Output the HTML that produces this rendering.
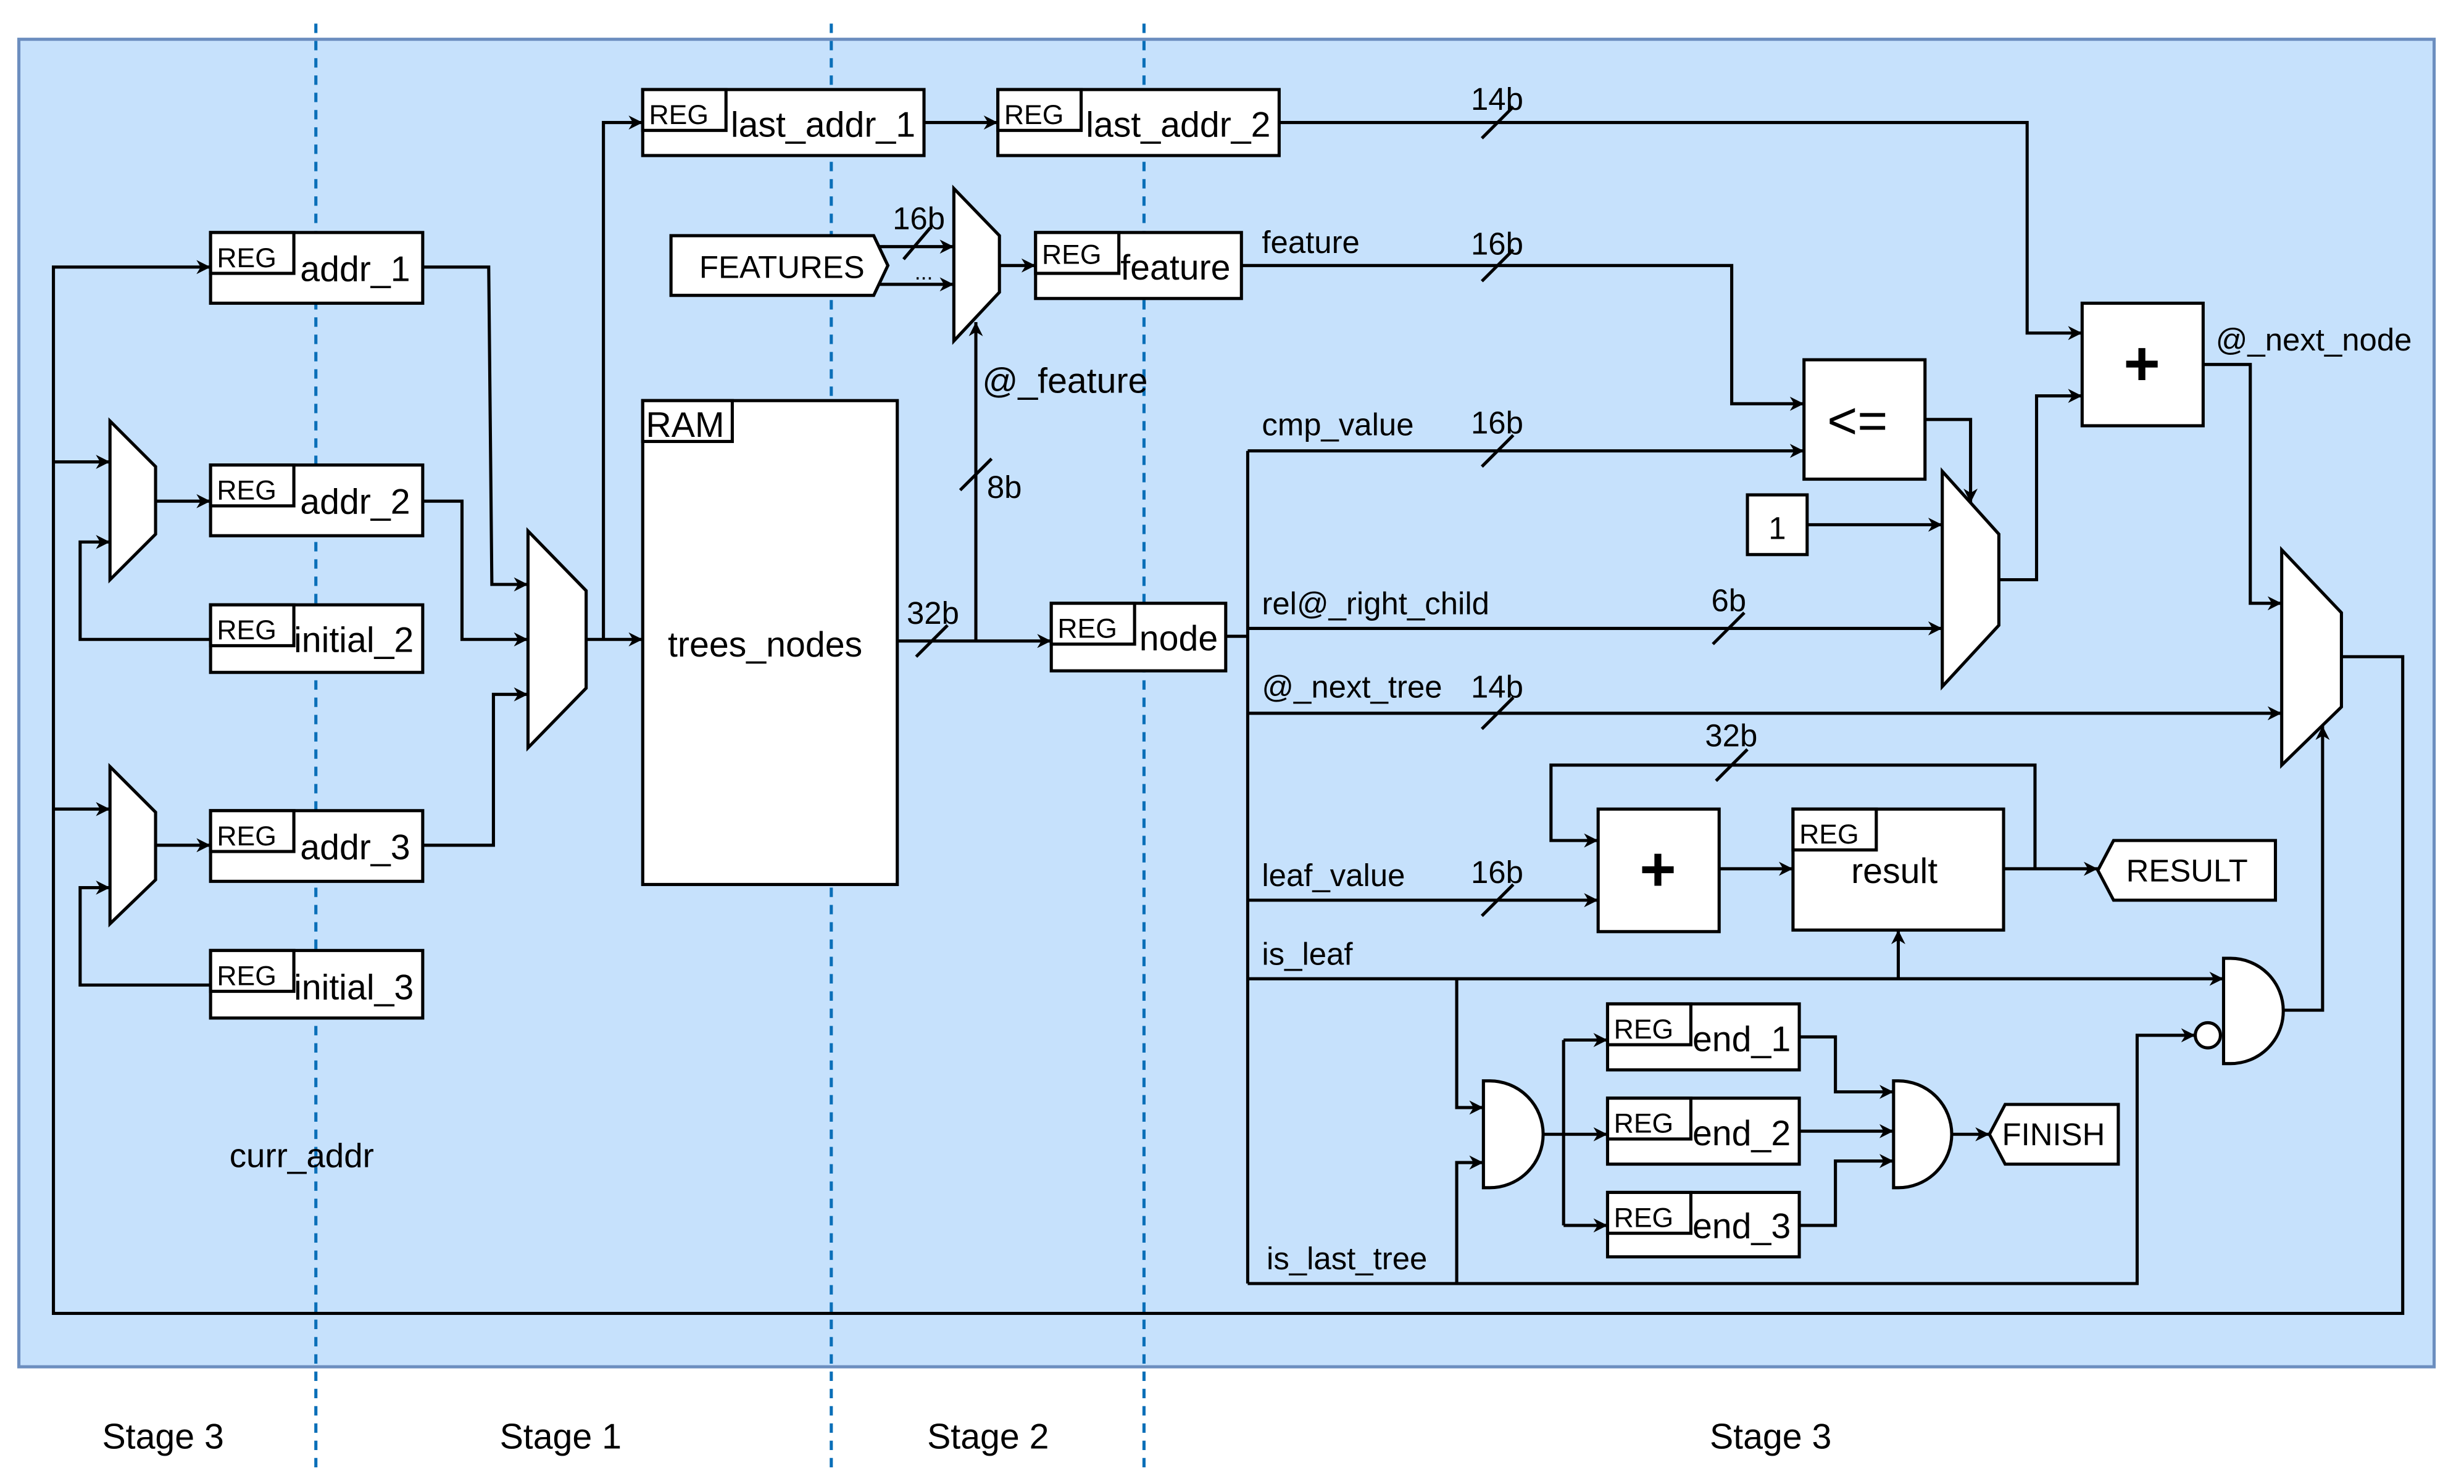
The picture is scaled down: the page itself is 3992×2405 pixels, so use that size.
<!DOCTYPE html>
<html><head><meta charset="utf-8"><style>html,body{margin:0;padding:0;background:#fff}svg{display:block}</style></head>
<body>
<svg width="3992" height="2405" viewBox="0 0 1568 944.6" preserveAspectRatio="none" xmlns="http://www.w3.org/2000/svg" font-family="Liberation Sans, sans-serif">
<defs>
<marker id="a" viewBox="0 0 10 10" refX="10" refY="5" markerWidth="9" markerHeight="9" markerUnits="userSpaceOnUse" orient="auto"><path d="M0,0 L10,5 L0,10 L3,5 Z" fill="#000"/></marker>
</defs>
<rect x="12" y="25" width="1537" height="845" fill="#c6e1fc" stroke="#6c8ebf" stroke-width="2"/>
<g stroke="#0a6fb8" stroke-width="2" stroke-dasharray="6,5">
<line x1="201" y1="15" x2="201" y2="935"/><line x1="529" y1="15" x2="529" y2="935"/><line x1="728" y1="15" x2="728" y2="935"/>
</g>
<g fill="none" stroke="#000" stroke-width="2">
<polyline points="1490,418 1529,418 1529,836 34,836 34,170 134,170" marker-end="url(#a)"/>
<polyline points="34,294 70,294" marker-end="url(#a)"/>
<polyline points="34,515 70,515" marker-end="url(#a)"/>
<polyline points="99,319 134,319" marker-end="url(#a)"/>
<polyline points="134,407 51,407 51,345 70,345" marker-end="url(#a)"/>
<polyline points="99,538 134,538" marker-end="url(#a)"/>
<polyline points="134,627 51,627 51,565 70,565" marker-end="url(#a)"/>
<polyline points="269,170 311,170 313,372 336,372" marker-end="url(#a)"/>
<polyline points="269,319 294,319 294,407 336,407" marker-end="url(#a)"/>
<polyline points="269,538 314,538 314,442 336,442" marker-end="url(#a)"/>
<polyline points="373,407 409,407" marker-end="url(#a)"/>
<polyline points="384,407 384,78 409,78" marker-end="url(#a)"/>
<polyline points="588,78 635,78" marker-end="url(#a)"/>
<polyline points="814,78 1290,78 1290,212 1325,212" marker-end="url(#a)"/>
<polyline points="558,157 607,157" marker-end="url(#a)"/>
<polyline points="558,181 607,181" marker-end="url(#a)"/>
<polyline points="636,169 659,169" marker-end="url(#a)"/>
<polyline points="571,408 669,408" marker-end="url(#a)"/>
<polyline points="621,408 621,205" marker-end="url(#a)"/>
<polyline points="780,405 794,405"/>
<line x1="794" y1="287" x2="794" y2="817"/>
<polyline points="790,169 1102,169 1102,257 1148,257" marker-end="url(#a)"/>
<polyline points="794,287 1148,287" marker-end="url(#a)"/>
<polyline points="1225,267 1254,267 1254,320" marker-end="url(#a)"/>
<polyline points="1150,334 1236,334" marker-end="url(#a)"/>
<polyline points="794,400 1236,400" marker-end="url(#a)"/>
<polyline points="1272,369 1296,369 1296,252 1325,252" marker-end="url(#a)"/>
<polyline points="1402,232 1432,232 1432,384 1452,384" marker-end="url(#a)"/>
<polyline points="794,454 1452,454" marker-end="url(#a)"/>
<polyline points="794,573 1017,573" marker-end="url(#a)"/>
<polyline points="1094,553 1141,553" marker-end="url(#a)"/>
<polyline points="1275,553 1335,553" marker-end="url(#a)"/>
<polyline points="1295,553 1295,487 987,487 987,535 1017,535" marker-end="url(#a)"/>
<polyline points="794,623 1415,623" marker-end="url(#a)"/>
<polyline points="1208,623 1208,592" marker-end="url(#a)"/>
<polyline points="927,623 927,705 944,705" marker-end="url(#a)"/>
<polyline points="794,817 1360,817 1360,659 1397,659" marker-end="url(#a)"/>
<polyline points="927,817 927,740 944,740" marker-end="url(#a)"/>
<polyline points="982,722 995,722"/>
<polyline points="995,662 995,780"/>
<polyline points="995,662 1023,662" marker-end="url(#a)"/>
<polyline points="995,722 1023,722" marker-end="url(#a)"/>
<polyline points="995,780 1023,780" marker-end="url(#a)"/>
<polyline points="1145,660 1168,660 1168,695 1205,695" marker-end="url(#a)"/>
<polyline points="1145,720 1205,720" marker-end="url(#a)"/>
<polyline points="1145,780 1168,780 1168,739 1205,739" marker-end="url(#a)"/>
<polyline points="1242,722 1266,722" marker-end="url(#a)"/>
<polyline points="1453,643 1478,643 1478,462" marker-end="url(#a)"/>
<line x1="943" y1="88" x2="963" y2="68"/><line x1="943" y1="179" x2="963" y2="159"/>
<line x1="943" y1="297" x2="963" y2="277"/><line x1="1090" y1="410" x2="1110" y2="390"/>
<line x1="943" y1="464" x2="963" y2="444"/><line x1="1092" y1="497" x2="1112" y2="477"/>
<line x1="943" y1="583" x2="963" y2="563"/><line x1="583" y1="418" x2="603" y2="398"/>
<line x1="611" y1="312" x2="631" y2="292"/><line x1="575" y1="165" x2="592" y2="145"/>
</g>
<g fill="#fff" stroke="#000" stroke-width="2">
<rect x="409" y="57" width="179" height="42"/><rect x="409" y="57" width="53" height="26"/>
<rect x="635" y="57" width="179" height="42"/><rect x="635" y="57" width="53" height="26"/>
<rect x="134" y="148" width="135" height="45"/><rect x="134" y="148" width="53" height="26"/>
<rect x="134" y="296" width="135" height="45"/><rect x="134" y="296" width="53" height="26"/>
<rect x="134" y="385" width="135" height="43"/><rect x="134" y="385" width="53" height="26"/>
<rect x="134" y="516" width="135" height="45"/><rect x="134" y="516" width="53" height="26"/>
<rect x="134" y="605" width="135" height="43"/><rect x="134" y="605" width="53" height="26"/>
<polygon points="427,150 556,150 565,169 556,188 427,188"/>
<polygon points="607,120 636,150 636,186 607,217"/>
<rect x="659" y="148" width="131" height="42"/><rect x="659" y="148" width="53" height="26"/>
<rect x="409" y="255" width="162" height="308"/><rect x="409" y="255" width="57" height="26"/>
<rect x="669" y="384" width="111" height="43"/><rect x="669" y="384" width="53" height="26"/>
<polygon points="336,338 373,376 373,438 336,476"/>
<polygon points="70,268 99,297 99,340 70,369"/>
<polygon points="70,488 99,517 99,560 70,588"/>
<rect x="1148" y="229" width="77" height="76"/>
<rect x="1325" y="193" width="77" height="78"/>
<rect x="1112" y="315" width="38" height="38"/>
<polygon points="1236,300 1272,340 1272,398 1236,437"/>
<polygon points="1452,350 1490,390 1490,450 1452,487"/>
<rect x="1017" y="515" width="77" height="78"/>
<rect x="1141" y="515" width="134" height="77"/><rect x="1141" y="515" width="53" height="26"/>
<polygon points="1345,535 1448,535 1448,573 1345,573 1335,554"/>
<path d="M1415,610 H1419.5 A33.5,33.5 0 0 1 1419.5,677 H1415 Z"/>
<circle cx="1405" cy="659" r="8"/>
<path d="M944,688 H948 A34,34 0 0 1 948,756 H944 Z"/>
<path d="M1205,688 H1208 A34,34 0 0 1 1208,756 H1205 Z"/>
<rect x="1023" y="639" width="122" height="42"/><rect x="1023" y="639" width="53" height="26"/>
<rect x="1023" y="699" width="122" height="42"/><rect x="1023" y="699" width="53" height="26"/>
<rect x="1023" y="759" width="122" height="41"/><rect x="1023" y="759" width="53" height="26"/>
<polygon points="1276,703 1348,703 1348,741 1276,741 1266,722"/>
</g>
<g font-size="17.5" fill="#000">
<text x="413" y="79">REG</text><text x="639" y="79">REG</text>
<text x="138" y="170">REG</text><text x="138" y="318">REG</text><text x="138" y="407">REG</text>
<text x="138" y="538">REG</text><text x="138" y="627">REG</text>
<text x="663" y="168">REG</text><text x="673" y="406">REG</text><text x="1145" y="537">REG</text>
<text x="1027" y="661">REG</text><text x="1027" y="721">REG</text><text x="1027" y="781">REG</text>
</g>
<g font-size="22.5" fill="#000">
<text x="465" y="87">last_addr_1</text><text x="691" y="87">last_addr_2</text>
<text x="191" y="179">addr_1</text><text x="191" y="327">addr_2</text><text x="187" y="415">initial_2</text>
<text x="191" y="547">addr_3</text><text x="187" y="636">initial_3</text>
<text x="713" y="178">feature</text><text x="725" y="414">node</text>
<text x="411" y="278">RAM</text><text x="425" y="418">trees_nodes</text>
<text x="1178" y="562">result</text>
<text x="1077" y="669">end_1</text><text x="1077" y="729">end_2</text><text x="1077" y="788">end_3</text>
<text x="625" y="250">@_feature</text>
</g>
<g font-size="20" fill="#000">
<text x="445" y="177">FEATURES</text><text x="582" y="178" font-size="14">...</text>
<text x="1353" y="561">RESULT</text><text x="1274" y="729">FINISH</text>
<text x="1131" y="343" text-anchor="middle">1</text>
<text x="803" y="161">feature</text><text x="803" y="277">cmp_value</text>
<text x="803" y="391">rel@_right_child</text><text x="803" y="444">@_next_tree</text>
<text x="803" y="564">leaf_value</text><text x="803" y="614">is_leaf</text>
<text x="806" y="808">is_last_tree</text><text x="1410" y="223">@_next_node</text>
<text x="146" y="743" font-size="21.5">curr_addr</text>
<text x="936" y="70">14b</text><text x="936" y="162">16b</text><text x="936" y="276">16b</text>
<text x="1089" y="389">6b</text><text x="936" y="444">14b</text><text x="1085" y="475">32b</text>
<text x="936" y="562">16b</text><text x="577" y="397">32b</text><text x="628" y="317">8b</text>
<text x="568" y="146">16b</text>
</g>
<text x="1182" y="279" font-size="33" text-anchor="middle">&lt;=</text>
<text x="1363" y="245" font-size="40" text-anchor="middle" font-weight="bold">+</text>
<text x="1055" y="567" font-size="40" text-anchor="middle" font-weight="bold">+</text>
<g font-size="22.5" fill="#000">
<text x="65" y="922">Stage 3</text><text x="318" y="922">Stage 1</text>
<text x="590" y="922">Stage 2</text><text x="1088" y="922">Stage 3</text>
</g>
</svg>
</body></html>
